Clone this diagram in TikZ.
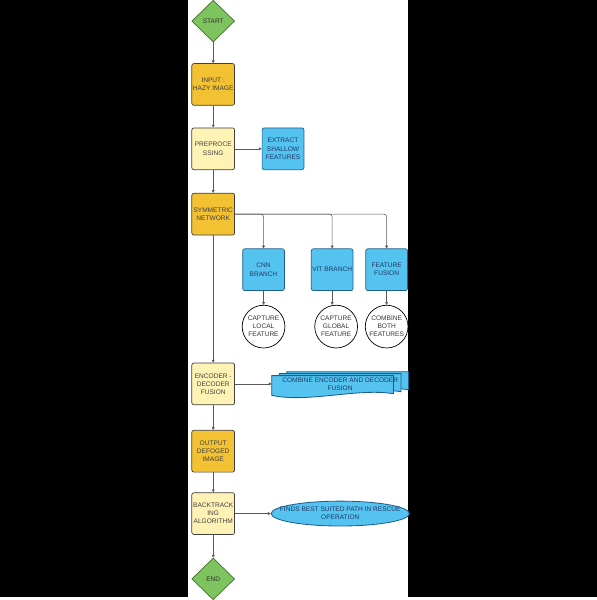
\documentclass[tikz,border=0pt]{standalone}
\usepackage{fontspec}
\setmainfont{Liberation Sans}
\usepackage{xcolor}
\usepackage{tikz}
\usetikzlibrary{shapes.geometric, arrows.meta, positioning, backgrounds, calc}
\definecolor{goldbox}{HTML}{F2C233}
\definecolor{creambox}{HTML}{FFF2B5}
\definecolor{skybox}{HTML}{55C3F0}
\definecolor{leafbox}{HTML}{7EC45E}
\definecolor{skyline}{HTML}{1F5F8B}
\definecolor{leafline}{HTML}{3F6E2C}
\definecolor{navytext}{HTML}{1D3A66}
\tikzset{
  terminal/.style={diamond, aspect=1, minimum width=1.075cm, minimum height=1.05cm, inner sep=0pt, draw=leafline, fill=leafbox, text=black!80, line width=0.5pt},
  stepbox/.style={rectangle, rounded corners=1.5pt, minimum width=1.075cm, minimum height=1.05cm, inner sep=0.5pt, align=center, draw=black!75, fill=goldbox, text=black!75, line width=0.5pt},
  lightbox/.style={stepbox, fill=creambox},
  branch/.style={rectangle, rounded corners=1.5pt, minimum width=1.05cm, minimum height=1.05cm, inner sep=0.5pt, align=center, draw=skyline, fill=skybox, text=navytext, line width=0.5pt},
  outcome/.style={circle, minimum size=1.075cm, inner sep=0pt, align=center, draw=black, fill=white, text=black!80, line width=0.5pt},
  result/.style={ellipse, minimum width=3.475cm, minimum height=0.625cm, inner xsep=-0.5cm, inner ysep=0pt, align=center, draw=skyline, fill=skybox, text=navytext, line width=0.6pt},
  docs/.style={draw=skyline, fill=skybox, line width=0.6pt},
  arrow/.style={draw=black!65, line width=0.4pt, -{Triangle[length=2pt, width=2pt]}}
}

\begin{document}
\begin{tikzpicture}[every node/.style={font=\fontsize{4.7}{5.8}\selectfont}]
% page with black margins
\begin{scope}[on background layer]
\fill[black] (0,0) rectangle (15,-15);
\fill[white] (4.72,0) rectangle (10.25,-15);
\end{scope}

% main column
\node[terminal] (start) at (5.36,-0.525) {START};
\node[stepbox, below=0.525cm of start] (input) {INPUT :\\HAZY IMAGE};
\node[lightbox, below=0.55cm of input] (prep) {PREPROCE\\SSING};
\node[stepbox, below=0.575cm of prep] (sym) {SYMMETRIC\\NETWORK};
\node[lightbox, below=3.2cm of sym] (enc) {ENCODER -\\DECODER\\FUSION};
\node[stepbox, below=0.625cm of enc] (out) {OUTPUT\\DEFOGED\\IMAGE};
\node[lightbox, below=0.5cm of out] (back) {BACKTRACK\\ING\\ALGORITHM};
\node[terminal, below=0.575cm of back] (stop) {END};

% side nodes
\node[branch, right=0.675cm of prep] (shallow) {EXTRACT\\SHALLOW\\FEATURES};
\node[branch] (cnn) at (6.625,-6.775) {CNN\\BRANCH};
\node[branch] (vit) at (8.35,-6.775) {VIT BRANCH};
\node[branch] (fuse) at (9.72,-6.775) {FEATURE\\FUSION};
\node[outcome, below=0.35cm of cnn] (local) {CAPTURE\\LOCAL\\FEATURE};
\node[outcome, below=0.35cm of vit, xshift=0.1cm] (global) {CAPTURE\\GLOBAL\\FEATURE};
\node[outcome, below=0.35cm of fuse] (both) {COMBINE\\BOTH\\FEATURES};
\node[right=0.925cm of enc, minimum width=3.425cm, minimum height=0.6cm, inner sep=0pt, align=center, text=navytext] (combine) {COMBINE ENCODER AND DECODER\\FUSION};
\node[result, right=0.9cm of back] (rescue) {FINDS BEST SUITED PATH IN RESCUE\\OPERATION};

% stacked documents behind the text
\begin{scope}[on background layer]
\foreach \i in {2,1,0} {
  \draw[docs] ($(combine.north west)+(0.19*\i,-0.1+0.05*\i)$) -- ($(combine.north east)+(-0.38+0.19*\i,-0.1+0.05*\i)$) -- ($(combine.south east)+(-0.38+0.19*\i,0.06+0.05*\i)$) .. controls +(-0.9,0.15) and +(0.9,-0.2) .. ($(combine.south west)+(0.19*\i,0.02+0.05*\i)$) -- cycle;
}
\end{scope}

\draw[arrow] (start) -- (input);
\draw[arrow] (input) -- (prep);
\draw[arrow] (prep) -- (sym);
\draw[arrow] (prep) -- (shallow);
\draw[arrow] (sym) -- (enc);
\draw[arrow, rounded corners=2pt] (sym) -| (cnn);
\draw[arrow, rounded corners=2pt] (sym) -| (vit);
\draw[arrow, rounded corners=2pt] (sym) -| (fuse);
\draw[arrow] (cnn) -- (local);
\draw[arrow] (vit) -- (vit |- global.north);
\draw[arrow] (fuse) -- (both);
\draw[arrow] (enc) -- (combine);
\draw[arrow] (enc) -- (out);
\draw[arrow] (out) -- (back);
\draw[arrow] (back) -- (rescue);
\draw[arrow] (back) -- (stop);
\end{tikzpicture}
\end{document}
